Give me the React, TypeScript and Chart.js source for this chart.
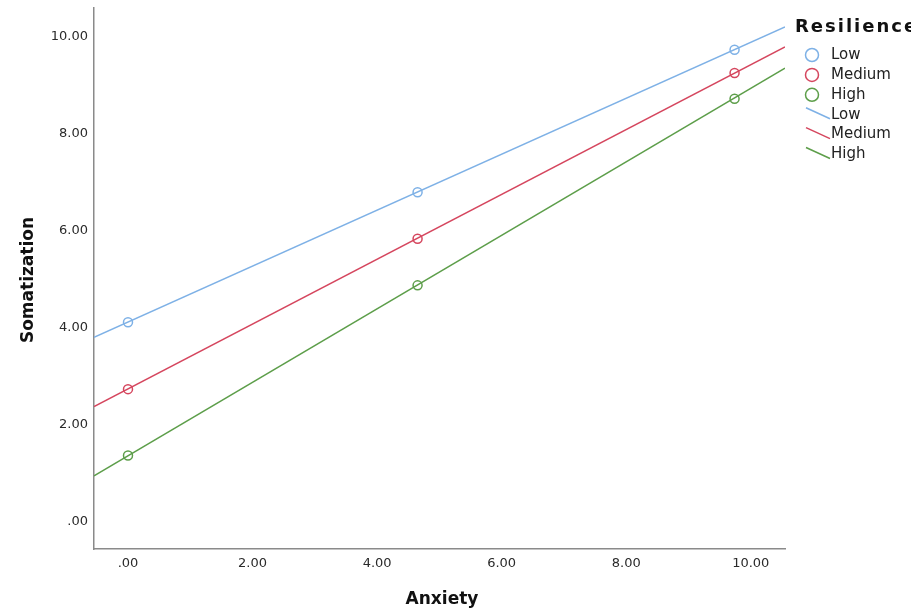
import React, { useEffect, useRef } from "react";
import { Chart, registerables } from "chart.js";

Chart.register(...registerables);

// ---- Data ----
const anxietyLevels = [0, 4.65, 9.74];
const lowMeans = [4.12, 6.8, 9.74];
const mediumMeans = [2.74, 5.84, 9.26];
const highMeans = [1.37, 4.88, 8.73];

const fitX = [-0.546, 10.55];
const lowFit = [3.81, 10.21];
const mediumFit = [2.38, 9.8];
const highFit = [0.95, 9.36];

const groupNames = ["Low", "Medium", "High"];
const legendTitle = "Resilience";
const xTitle = "Anxiety";
const yTitle = "Somatization";
const xTicks = [0, 2, 4, 6, 8, 10];
const yTicks = [0, 2, 4, 6, 8, 10];

const colors = ["#7eb1e6", "#d5465e", "#5d9e4a"];

const fmt = (v: number) => (v === 0 ? ".00" : v.toFixed(2));

const toPts = (xs: number[], ys: number[]) => xs.map((x, i) => ({ x, y: ys[i] }));

const FONT = '"DejaVu Sans", "Noto Sans", sans-serif';

const overlayPlugin = {
  id: "overlay",
  afterDraw(chart: any) {
    const ctx: CanvasRenderingContext2D = chart.ctx;
    ctx.save();
    // axis titles
    ctx.fillStyle = "#111";
    ctx.font = `bold 17px ${FONT}`;
    ctx.textAlign = "center";
    ctx.textBaseline = "alphabetic";
    ctx.fillText(xTitle, 442, 604);
    ctx.save();
    ctx.translate(33, 280);
    ctx.rotate(-Math.PI / 2);
    ctx.fillText(yTitle, 0, 0);
    ctx.restore();

    // legend title
    ctx.textAlign = "left";
    ctx.textBaseline = "middle";
    ctx.font = `bold 18px ${FONT}`;
    (ctx as any).letterSpacing = "2px";
    ctx.fillText(legendTitle, 795, 27);
    (ctx as any).letterSpacing = "0px";

    // legend items
    ctx.font = `15px ${FONT}`;
    ctx.fillStyle = "#222";
    const rowH = 19.9;
    groupNames.forEach((name, i) => {
      const y = 55 + i * rowH;
      ctx.beginPath();
      ctx.strokeStyle = colors[i];
      ctx.lineWidth = 1.5;
      ctx.arc(812, y, 6.5, 0, Math.PI * 2);
      ctx.stroke();
      ctx.fillStyle = "#222";
      ctx.fillText(name, 831, y);
    });
    groupNames.forEach((name, i) => {
      const y = 55 + (i + 3) * rowH;
      ctx.beginPath();
      ctx.strokeStyle = colors[i];
      ctx.lineWidth = 1.5;
      ctx.moveTo(806, y - 7);
      ctx.lineTo(830, y + 4);
      ctx.stroke();
      ctx.fillStyle = "#222";
      ctx.fillText(name, 831, y);
    });
    ctx.restore();
  },
};

export default function App() {
  const ref = useRef<HTMLCanvasElement | null>(null);

  useEffect(() => {
    if (!ref.current) return;
    const meanSets = [lowMeans, mediumMeans, highMeans];
    const fitSets = [lowFit, mediumFit, highFit];
    const datasets: any[] = [];
    fitSets.forEach((f, i) => {
      datasets.push({
        label: groupNames[i] + " fit",
        data: toPts(fitX, f),
        showLine: true,
        borderColor: colors[i],
        borderWidth: 1.5,
        pointRadius: 0,
        fill: false,
      });
    });
    meanSets.forEach((m, i) => {
      datasets.push({
        label: groupNames[i],
        data: toPts(anxietyLevels, m),
        showLine: false,
        pointStyle: "circle",
        pointRadius: 4.5,
        pointBorderWidth: 1.5,
        borderColor: colors[i],
        backgroundColor: "rgba(0,0,0,0)",
      });
    });

    const chart = new Chart(ref.current, {
      type: "scatter",
      data: { datasets },
      options: {
        animation: false,
        responsive: false,
        devicePixelRatio: 1,
        layout: { padding: { left: 0, top: 8, right: 126, bottom: 0 } },
        plugins: {
          legend: { display: false },
          tooltip: { enabled: false },
        },
        scales: {
          x: {
            type: "linear",
            min: fitX[0],
            max: fitX[1],
            grid: { display: false, drawTicks: false },
            border: { display: true, color: "#8a8a8a", width: 1.5 },
            ticks: {
              padding: 7,
              color: "#2a2a2a",
              font: { family: FONT, size: 13 },
              callback: (v: any) => fmt(Number(v)),
            },
            afterBuildTicks: (s: any) => {
              s.ticks = xTicks.map((v) => ({ value: v }));
            },
            afterFit: (s: any) => {
              s.height = 64;
              s.paddingLeft = 0;
              s.paddingRight = 0;
            },
          },
          y: {
            type: "linear",
            min: -0.557,
            max: 10.6,
            grid: { display: false, drawTicks: false },
            border: { display: true, color: "#8a8a8a", width: 1.5 },
            ticks: {
              padding: 6,
              color: "#2a2a2a",
              font: { family: FONT, size: 13 },
              callback: (v: any) => fmt(Number(v)),
            },
            afterBuildTicks: (s: any) => {
              s.ticks = yTicks.map((v) => ({ value: v }));
            },
            afterFit: (s: any) => {
              s.width = 94;
              s.paddingTop = 0;
              s.paddingBottom = 0;
            },
          },
        },
      },
      plugins: [overlayPlugin],
    });
    return () => chart.destroy();
  }, []);

  return (
    <div style={{ position: "fixed", left: 0, top: 0, width: 911, height: 613, background: "#fff" }}>
      <canvas ref={ref} width={911} height={613} style={{ width: 911, height: 613, display: "block" }} />
    </div>
  );
}
